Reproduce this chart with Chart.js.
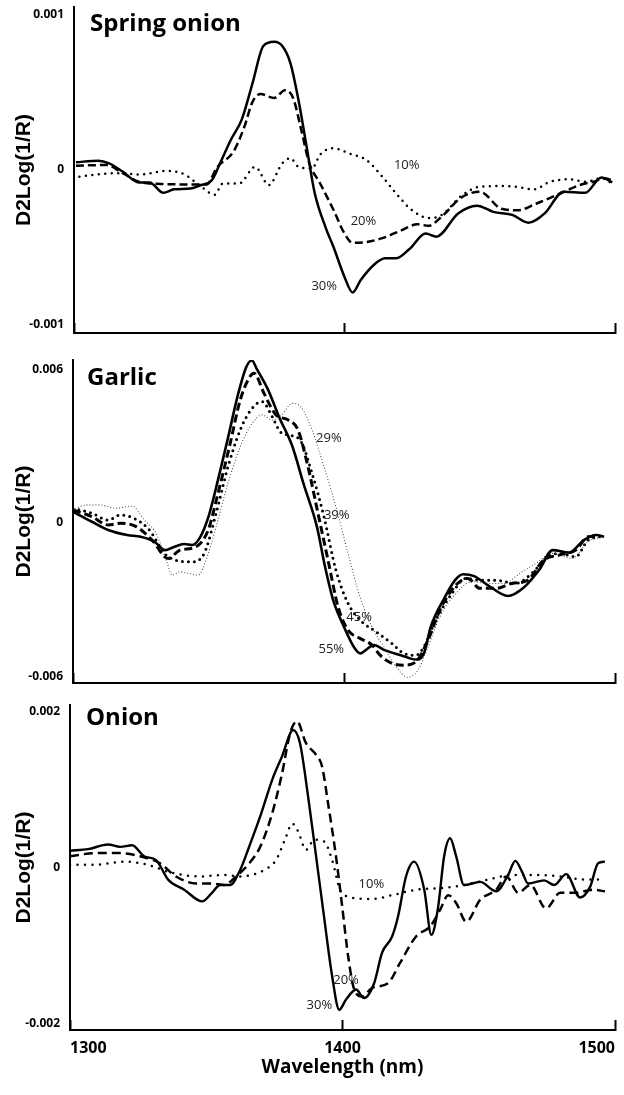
<!DOCTYPE html>
<html>
<head>
<meta charset="utf-8">
<script src="https://cdn.jsdelivr.net/npm/chart.js@4.4.0/dist/chart.umd.min.js"></script>
<style>
  html, body { margin: 0; padding: 0; background: #fff; }
  #wrap { width: 624px; }
  .panel { position: relative; width: 624px; }
</style>
</head>
<body>
<div id="wrap">
  <div class="panel" style="height:340px"><canvas id="c1"></canvas></div>
  <div class="panel" style="height:350px"><canvas id="c2"></canvas></div>
  <div class="panel" style="height:405px"><canvas id="c3"></canvas></div>
</div>
<script>
// ---------- shared axis data ----------
const xTicks = [1300, 1400, 1500];           // wavelength ticks (nm)
const xTitle = 'Wavelength (nm)';
const yTitle = 'D2Log(1/R)';
// y values below are in units of 1e-3 (tick labels show real values)

// ---------- Spring onion ----------
const springTickValues = [1, 0, -1];
const springTickLabels = ['0.001', '0', '-0.001'];
const spring30_nm = [1300.7,1309,1313,1318,1324,1328,1333,1337,1343,1347,1351,1354,1358,1362,1366,1370,1374,1377,1380,1383,1386,1389,1393,1396,1400,1403,1406,1411,1415,1419,1424,1430,1434,1442,1449,1455,1462,1468,1474,1481,1489,1495,1499];
const spring30    = [0.05,0.06,0.043,-0.01,-0.08,-0.08,-0.147,-0.125,-0.12,-0.097,-0.065,0.043,0.195,0.325,0.56,0.80,0.827,0.80,0.69,0.45,0.15,-0.15,-0.37,-0.50,-0.69,-0.79,-0.71,-0.61,-0.57,-0.57,-0.51,-0.41,-0.43,-0.28,-0.23,-0.27,-0.29,-0.34,-0.28,-0.14,-0.147,-0.048,-0.08];
const spring20_nm = [1300.7,1312,1318,1324,1332,1344,1349,1353,1359,1363,1366,1369,1374,1378,1381,1384,1387,1391,1396,1400,1403,1408,1414,1421,1427,1431,1436,1443,1450,1458,1464,1471,1480,1487,1492,1496,1499];
const spring20    = [0.028,0.032,-0.02,-0.076,-0.09,-0.093,-0.093,0.02,0.12,0.28,0.44,0.49,0.465,0.515,0.465,0.26,0.043,-0.087,-0.26,-0.41,-0.47,-0.465,-0.44,-0.39,-0.35,-0.36,-0.30,-0.18,-0.14,-0.25,-0.26,-0.216,-0.15,-0.097,-0.076,-0.054,-0.065];
const spring10_nm = [1302,1310,1318,1324,1334,1341,1347,1352,1355,1361,1367,1372,1377,1380,1383,1388,1391,1396,1402,1408,1414,1419,1425,1431,1436,1443,1450,1458,1464,1470,1476,1483,1489,1495,1499];
const spring10    = [-0.043,-0.026,-0.02,-0.03,-0.006,-0.03,-0.108,-0.16,-0.087,-0.087,0.02,-0.097,0.043,0.076,0.02,0.01,0.10,0.14,0.104,0.065,-0.043,-0.15,-0.26,-0.31,-0.29,-0.17,-0.108,-0.104,-0.11,-0.125,-0.076,-0.06,-0.076,-0.054,-0.087];
const springLabelText = ['10%', '20%', '30%'];
const springLabelNm   = [1423, 1407, 1392.5];
const springLabelVal  = [0.03, -0.33, -0.75];

// ---------- Garlic ----------
const garlicTickValues = [6, 0, -6];
const garlicTickLabels = ['0.006', '0', '-0.006'];
const garlic55_nm = [1300,1307,1313,1320,1325,1330,1334,1337,1341,1344,1347,1350,1353.5,1357,1361,1364,1366,1368,1372,1376,1381,1385,1390,1393,1396,1400,1404,1406,1408,1411,1415,1421,1426.5,1429.5,1432,1437,1441,1444,1448,1453,1460.5,1466,1472,1477,1483,1488.5,1493,1496];
const garlic55    = [0.44,0.05,-0.27,-0.47,-0.54,-0.73,-1.06,-0.95,-0.82,-0.86,-0.54,0.25,1.69,3.25,5.08,6.13,6.37,6.0,5.22,4.17,2.99,1.56,-0.14,-1.71,-3.02,-4.07,-4.92,-5.11,-4.98,-4.78,-4.98,-5.18,-5.35,-5.11,-4.07,-2.95,-2.24,-2.01,-2.08,-2.43,-2.86,-2.56,-1.84,-1.06,-1.16,-0.67,-0.47,-0.54];
const garlic45_nm = [1300,1307,1313,1317.4,1323.3,1329.2,1335.1,1339.5,1345.4,1349.9,1353.5,1358,1361.7,1365.3,1366.8,1370.5,1374.9,1379.4,1383,1386.7,1390.4,1394.1,1397.8,1401.5,1405.9,1410.3,1413.3,1417.7,1422.1,1426.5,1431,1435.4,1441.3,1445.7,1450.1,1456,1461.9,1467.8,1473.7,1479.6,1485.5,1490,1494.4];
const garlic45    = [0.51,0.25,-0.08,-0.01,-0.14,-0.67,-1.39,-1.06,-0.93,-0.27,1.16,3.12,4.82,5.74,5.87,5.08,4.24,4.04,3.65,2.21,0.38,-1.45,-3.28,-4.20,-4.52,-4.78,-5.18,-5.50,-5.57,-5.44,-4.59,-3.41,-2.43,-2.17,-2.56,-2.56,-2.37,-2.24,-1.45,-1.25,-1.06,-0.54,-0.51];
const garlic39_nm = [1300,1307.1,1313,1317.4,1322.6,1327.7,1335.1,1344,1348.4,1352.8,1357.2,1361.7,1366.1,1369.8,1373.5,1376.4,1379.4,1383.8,1388.2,1392.6,1397,1401.5,1405.9,1411.8,1417.7,1422.1,1426.5,1429.5,1433.9,1439.8,1445,1450.1,1456,1463.4,1469.3,1475.2,1479.6,1485.5,1490,1494.4];
const garlic39    = [0.58,0.38,0.12,0.31,0.18,-0.21,-1.32,-1.52,-1.19,0.38,2.21,3.65,4.50,4.76,4.17,3.58,3.45,3.25,1.95,0.25,-1.84,-3.15,-3.80,-4.26,-4.72,-5.11,-5.18,-4.85,-3.80,-2.76,-2.17,-2.24,-2.24,-2.37,-1.97,-1.32,-1.19,-1.32,-0.67,-0.54];
const garlic29_nm = [1300,1304.9,1310,1315.9,1321.8,1326.3,1330.7,1334.4,1336.6,1339.5,1342.5,1346.2,1349.1,1352.8,1357.2,1361.7,1366.1,1369.8,1373.5,1377.1,1380.8,1384.5,1388.2,1392.6,1397,1401.5,1405.9,1410.3,1414.7,1419.2,1423.6,1427.3,1431,1435.4,1441.3,1447.2,1453.1,1459,1464.9,1470.8,1476.7,1484.1,1490,1495.9];
const garlic29    = [0.51,0.71,0.71,0.58,0.67,0.12,-0.41,-1.45,-2.04,-1.91,-1.97,-2.04,-1.45,-0.14,1.56,2.99,3.91,4.24,4.04,4.24,4.69,4.50,3.65,2.21,0.64,-1.19,-2.89,-4.07,-4.85,-5.63,-6.05,-5.76,-4.85,-3.67,-2.76,-2.30,-2.37,-2.37,-1.97,-1.58,-1.19,-1.39,-0.73,-0.54];
const garlicLabelText = ['29%', '39%', '45%', '55%'];
const garlicLabelNm   = [1394.4, 1397.3, 1405.6, 1395.3];
const garlicLabelVal  = [3.33, 0.31, -3.71, -4.95];

// ---------- Onion ----------
const onionTickValues = [2, 0, -2];
const onionTickLabels = ['0.002', '0', '-0.002'];
const onion30_nm = [1300,1306.6,1314,1318.4,1322.8,1327.2,1331.6,1336,1341.9,1348.5,1352.1,1355.1,1358.7,1362.4,1365.3,1369.8,1374.2,1377.8,1381.9,1384.4,1387.4,1390.3,1393.2,1396.2,1398.8,1401.3,1405,1407.9,1411.6,1414.5,1418.2,1420.4,1423.3,1426.3,1430,1432.6,1435.1,1437.3,1439.5,1441.7,1444.6,1450.5,1456.4,1460.8,1463.4,1465.9,1468.1,1474,1477.7,1482.1,1487.2,1490.9,1493.8,1496.3];
const onion30    = [0.22,0.24,0.30,0.27,0.29,0.15,0.10,-0.15,-0.28,-0.43,-0.32,-0.22,-0.22,-0.03,0.23,0.66,1.13,1.43,1.77,1.60,0.91,0.15,-0.62,-1.39,-1.82,-1.69,-1.56,-1.67,-1.48,-1.09,-0.88,-0.62,-0.11,0.08,-0.28,-0.86,-0.50,0.15,0.38,0.15,-0.22,-0.18,-0.30,-0.09,0.09,-0.05,-0.20,-0.16,-0.22,-0.08,-0.38,-0.24,0.06,0.08];
const onion20_nm = [1300,1309.5,1318.4,1325.7,1333,1338.9,1346.3,1352.1,1356.5,1360.9,1365.3,1369.8,1374.2,1377.8,1380.8,1383.3,1386.6,1390.3,1392.5,1394.7,1397.6,1399.9,1402.1,1404.3,1407.2,1410.9,1416.7,1421.1,1427,1432.2,1435.8,1438.8,1441.7,1445.4,1450.5,1456.4,1460.1,1464.5,1468.9,1474.7,1479.9,1485.8,1491.6,1496.3];
const onion20    = [0.15,0.19,0.19,0.15,0.06,-0.11,-0.20,-0.20,-0.22,-0.11,0.04,0.27,0.70,1.21,1.73,1.88,1.60,1.45,1.30,0.83,0.15,-0.50,-1.14,-1.56,-1.65,-1.54,-1.48,-1.22,-0.88,-0.75,-0.54,-0.35,-0.45,-0.69,-0.41,-0.28,-0.11,-0.32,-0.22,-0.52,-0.32,-0.32,-0.28,-0.30];
const onion10_nm = [1300,1309.5,1319.8,1328.6,1336,1347.7,1356.5,1362.4,1366.8,1371.2,1375.6,1379.3,1381.5,1383.7,1386.6,1389.6,1393.2,1396.2,1399.1,1402.1,1410.9,1418.2,1427,1435.8,1444.6,1453.4,1462.3,1471,1479.9,1488.7,1496.3];
const onion10    = [0.04,0.04,0.08,0.04,-0.05,-0.11,-0.09,-0.11,-0.09,-0.03,0.10,0.40,0.57,0.47,0.23,0.36,0.34,0.10,-0.28,-0.37,-0.40,-0.35,-0.28,-0.26,-0.22,-0.15,-0.09,-0.09,-0.11,-0.15,-0.15];
const onionLabelText = ['10%', '20%', '30%'];
const onionLabelNm   = [1410.6, 1401.3, 1391.5];
const onionLabelVal  = [-0.205, -1.44, -1.76];

// ---------- helpers ----------
const pts = (nm, v) => nm.map((x, i) => ({ x: x, y: v[i] }));

const panelText = {
  id: 'panelText',
  afterDatasetsDraw(chart, args, o) {
    const { ctx, chartArea, scales } = chart;
    ctx.save();
    ctx.fillStyle = '#000';
    ctx.font = 'bold 24px "Open Sans"';
    ctx.textAlign = 'left';
    ctx.textBaseline = 'alphabetic';
    ctx.fillText(o.name, chartArea.left + o.nameDx, chartArea.top + o.nameDy);
    ctx.font = '13px "Open Sans"';
    ctx.fillStyle = '#222';
    ctx.textAlign = 'center';
    ctx.textBaseline = 'middle';
    o.text.forEach((t, i) => {
      ctx.fillText(t, scales.x.getPixelForValue(o.nm[i]), scales.y.getPixelForValue(o.val[i]));
    });
    ctx.restore();
  }
};

const solid  = (w) => ({ borderColor: '#000', borderWidth: w, borderDash: [], borderCapStyle: 'butt' });
const dashed = (w, d, g) => ({ borderColor: '#000', borderWidth: w, borderDash: [d, g], borderCapStyle: 'butt' });
const dotted = (w, g, c) => ({ borderColor: c || '#000', borderWidth: w, borderDash: [0, g], borderCapStyle: 'round' });

const noPad = (sc) => { sc.paddingLeft = 0; sc.paddingRight = 0; sc.paddingTop = 0; sc.paddingBottom = 0; };

function makePanel(id, p) {
  const datasets = p.series.map(s => Object.assign({
    data: pts(s.nm, s.v),
    pointRadius: 0,
    fill: false,
    cubicInterpolationMode: 'monotone',
    borderJoinStyle: 'round'
  }, s.style));
  return new Chart(document.getElementById(id), {
    type: 'line',
    data: { datasets },
    plugins: [panelText],
    options: {
      responsive: true,
      maintainAspectRatio: false,
      animation: false,
      events: [],
      layout: { padding: { top: p.padTop, right: 9, left: 0, bottom: 0 } },
      plugins: {
        legend: { display: false },
        tooltip: { enabled: false },
        panelText: { name: p.name, nameDx: p.nameDx, nameDy: p.nameDy, text: p.labText, nm: p.labNm, val: p.labVal }
      },
      scales: {
        x: {
          type: 'linear',
          min: 1300, max: 1500,
          afterBuildTicks: (sc) => { sc.ticks = xTicks.map(v => ({ value: v })); },
          afterFit: (sc) => { sc.height = p.xHeight; noPad(sc); },
          ticks: {
            display: p.showX,
            align: 'inner',
            autoSkip: false,
            maxRotation: 0,
            padding: 19,
            color: '#000',
            font: { family: '"Open Sans"', size: 16, weight: 'bold' },
            callback: (v) => String(v)
          },
          grid: { drawOnChartArea: false, drawTicks: true, tickLength: -10, tickWidth: 2, tickColor: '#000' },
          border: { display: true, color: '#000', width: 2 },
          title: {
            display: p.showX,
            text: xTitle,
            color: '#000',
            font: { family: '"Open Sans"', size: 19, weight: 'bold' },
            padding: { top: 0, bottom: 16 }
          }
        },
        y: {
          type: 'linear',
          min: p.yMin, max: p.yMax,
          afterBuildTicks: (sc) => { sc.ticks = p.yTickValues.map(v => ({ value: v })); },
          afterFit: (sc) => { sc.width = p.yWidth; noPad(sc); },
          ticks: {
            padding: 10,
            color: '#000',
            font: { family: '"Open Sans"', size: 12, weight: 'bold' },
            callback: (v, i) => p.yTickLabels[i]
          },
          grid: { drawOnChartArea: false, drawTicks: false },
          border: { display: true, color: '#000', width: 2 },
          title: {
            display: true,
            text: yTitle,
            color: '#000',
            font: { family: '"Liberation Sans", Arial, sans-serif', size: 21, weight: 'bold' },
            padding: { top: 12, bottom: 0 }
          }
        }
      }
    }
  });
}

makePanel('c1', {
  name: 'Spring onion', nameDx: 16, nameDy: 24,
  padTop: 7, xHeight: 7, showX: false, yWidth: 74,
  yMin: -1.052, yMax: 1.052,
  yTickValues: springTickValues, yTickLabels: springTickLabels,
  labText: springLabelText, labNm: springLabelNm, labVal: springLabelVal,
  series: [
    { nm: spring10_nm, v: spring10, style: dotted(2.5, 6.5) },
    { nm: spring20_nm, v: spring20, style: dashed(2.5, 8, 4) },
    { nm: spring30_nm, v: spring30, style: solid(2.5) }
  ]
});

makePanel('c2', {
  name: 'Garlic', nameDx: 14, nameDy: 25,
  padTop: 20, xHeight: 7, showX: false, yWidth: 73,
  yMin: -6.27, yMax: 6.39,
  yTickValues: garlicTickValues, yTickLabels: garlicTickLabels,
  labText: garlicLabelText, labNm: garlicLabelNm, labVal: garlicLabelVal,
  series: [
    { nm: garlic29_nm, v: garlic29, style: dotted(1.1, 3, '#333') },
    { nm: garlic39_nm, v: garlic39, style: dotted(3, 6) },
    { nm: garlic45_nm, v: garlic45, style: dashed(3, 8, 4) },
    { nm: garlic55_nm, v: garlic55, style: solid(2.6) }
  ]
});

makePanel('c3', {
  name: 'Onion', nameDx: 16, nameDy: 20,
  padTop: 15, xHeight: 65, showX: true, yWidth: 70,
  yMin: -2.08, yMax: 2.09,
  yTickValues: onionTickValues, yTickLabels: onionTickLabels,
  labText: onionLabelText, labNm: onionLabelNm, labVal: onionLabelVal,
  series: [
    { nm: onion10_nm, v: onion10, style: dotted(2.5, 7.5) },
    { nm: onion20_nm, v: onion20, style: dashed(2.5, 9, 5) },
    { nm: onion30_nm, v: onion30, style: solid(2.4) }
  ]
});
</script>
</body>
</html>
